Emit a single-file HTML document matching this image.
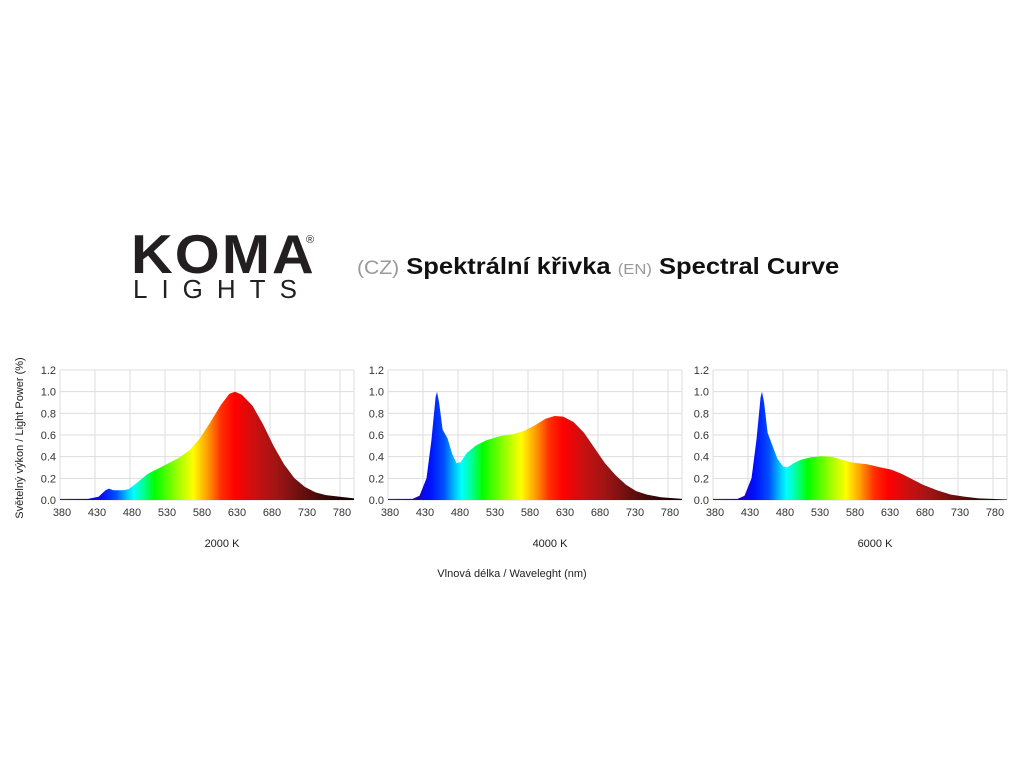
<!DOCTYPE html>
<html><head><meta charset="utf-8"><style>
body{margin:0;width:1024px;height:768px;background:#fff;position:relative;overflow:hidden;font-family:"Liberation Sans",sans-serif}
.abs{position:absolute;white-space:nowrap}
</style></head><body>
<div class="abs" style="left:131px;top:222px;font-size:55px;font-weight:bold;color:#231f20;letter-spacing:2px;transform:scaleX(1.05);transform-origin:left">KOMA</div>
<div class="abs" style="left:306px;top:234px;font-size:11px;color:#231f20">®</div>
<div class="abs" style="left:133px;top:274px;font-size:26px;color:#231f20;letter-spacing:14px;font-weight:normal">LIGHTS</div>
<div class="abs" style="left:357px;top:253px;font-size:23px;color:#111;transform:scaleX(1.11);transform-origin:left"><span style="color:#999;font-size:19px">(CZ)</span><b> Spektrální křivka </b><span style="color:#999;font-size:15px">(EN)</span><b> Spectral Curve</b></div>
<svg id="s" width="1024" height="768" style="position:absolute;left:0;top:0"></svg>
<script>
const s=document.getElementById('s');
let h='';
h+=`<defs><linearGradient id="sp" x1="0" x2="1" y1="0" y2="0">`;
const stops=[[380,'#3a2a6a'],[420,'#1a00c0'],[440,'#0010ff'],[460,'#0050ff'],[475,'#00c0ff'],[485,'#00ffff'],[500,'#00ff90'],[515,'#00ff00'],[545,'#90ff00'],[570,'#ffff00'],[590,'#ffa000'],[610,'#ff3000'],[630,'#ff0000'],[660,'#c81010'],[690,'#a01515'],[720,'#701010'],[760,'#3a0808'],[800,'#100000']];
stops.forEach(([w,c])=>h+=`<stop offset="${(w-380)/420}" stop-color="${c}"/>`);
h+=`</linearGradient></defs>`;
const data=[
[[380,0.01],[420,0.01],[435,0.03],[445,0.09],[450,0.105],[456,0.09],[470,0.09],[478,0.1],[490,0.16],[505,0.24],[520,0.29],[535,0.34],[550,0.39],[565,0.46],[580,0.57],[595,0.72],[610,0.88],[622,0.98],[630,1.0],[640,0.97],[655,0.87],[670,0.7],[685,0.5],[700,0.33],[715,0.2],[730,0.12],[745,0.07],[760,0.045],[780,0.03],[800,0.015]],
[[380,0.01],[415,0.01],[425,0.04],[435,0.2],[442,0.55],[448,0.95],[450,1.0],[453,0.9],[458,0.65],[465,0.57],[472,0.42],[478,0.34],[484,0.35],[492,0.43],[505,0.5],[520,0.55],[540,0.59],[560,0.61],[575,0.64],[590,0.69],[605,0.75],[618,0.775],[630,0.77],[645,0.72],[660,0.62],[675,0.48],[690,0.34],[705,0.23],[720,0.14],[735,0.08],[750,0.05],[770,0.025],[800,0.01]],
[[380,0.01],[415,0.01],[425,0.04],[435,0.2],[442,0.55],[448,0.95],[450,1.0],[453,0.9],[458,0.62],[465,0.5],[472,0.38],[480,0.31],[486,0.3],[495,0.34],[505,0.37],[520,0.395],[535,0.405],[550,0.4],[565,0.37],[580,0.345],[600,0.33],[620,0.3],[635,0.28],[650,0.24],[665,0.19],[680,0.14],[700,0.09],[720,0.05],[740,0.03],[760,0.015],[800,0.005]]];
const X0=[60,388,713],W=294,Y0=500,Y1=370;
const labels=['2000 K','4000 K','6000 K'];
for(let p=0;p<3;p++){
 const x0=X0[p];
 const fx=w=>x0+(w-380)*W/420, fy=v=>Y0-v*(Y0-Y1)/1.2;
 for(let i=0;i<=6;i++){const y=fy(i*0.2);h+=`<line x1="${x0}" x2="${x0+W}" y1="${y}" y2="${y}" stroke="#ddd" stroke-width="1"/>`;
  h+=`<text x="${x0-4}" y="${y+4}" font-size="11" text-anchor="end" fill="#333">${(i*0.2).toFixed(1)}</text>`;}
 for(let w=380;w<=780;w+=50){const x=fx(w);h+=`<line x1="${x}" x2="${x}" y1="${Y1}" y2="${Y0}" stroke="#ddd"/>`;
  h+=`<text x="${x+2}" y="${Y0+16}" font-size="11" text-anchor="middle" fill="#333">${w}</text>`;}
 h+=`<line x1="${x0+W}" x2="${x0+W}" y1="${Y1}" y2="${Y0}" stroke="#ddd"/>`;
 let d=`M${x0},${Y0}`;
 data[p].forEach(([w,v])=>d+=` L${fx(w).toFixed(1)},${fy(v).toFixed(1)}`);
 d+=` L${x0+W},${Y0}Z`;
 h+=`<g transform="translate(${x0},0) scale(${W/420},1)"><path d="${d}" transform="scale(${420/W},1) translate(${-x0},0)" fill="url(#sp)" stroke="none"/></g>`;
 h+=`<text x="${x0+W/2+15}" y="547" font-size="11" text-anchor="middle" fill="#222">${labels[p]}</text>`;
}
h+=`<text x="512" y="577" font-size="11" text-anchor="middle" fill="#222">Vlnová délka / Waveleght (nm)</text>`;
h+=`<text transform="translate(23,438) rotate(-90)" font-size="11" text-anchor="middle" fill="#222">Světelný výkon / Light Power (%)</text>`;
s.innerHTML=h;
</script>
</body></html>
